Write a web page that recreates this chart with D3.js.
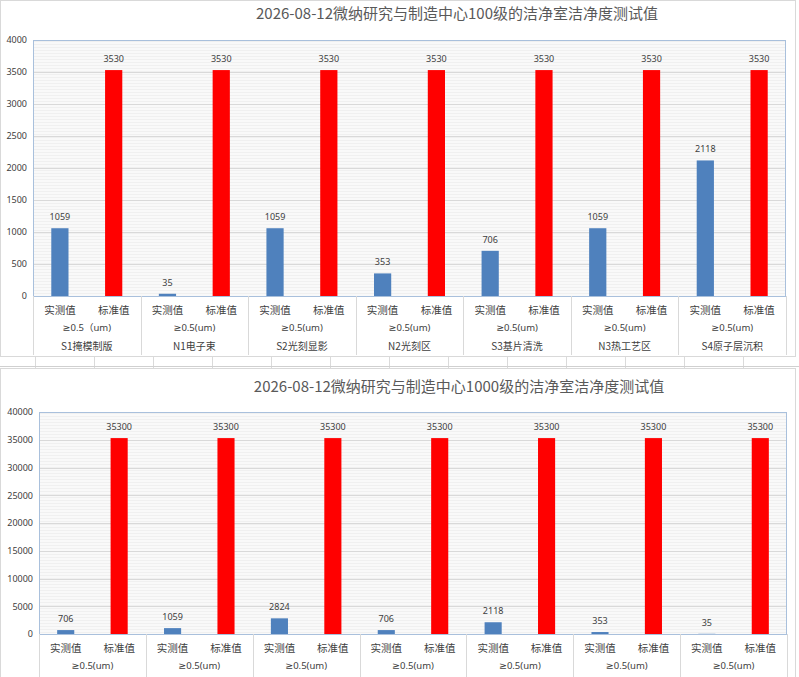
<!DOCTYPE html>
<html>
<head>
<meta charset="utf-8">
<script src="https://cdn.jsdelivr.net/npm/d3@7"></script>
<style>
  body { margin: 0; background: #fff; }
  svg { display: block; font-family: "Noto Sans CJK SC", "Noto Sans", sans-serif; }
</style>
</head>
<body>
<svg id="sheet" width="799" height="677"></svg>
<script>
// data
var rooms = ['S1掩模制版', 'N1电子束', 'S2光刻显影', 'N2光刻区', 'S3基片清洗', 'N3热工艺区', 'S4原子层沉积']
var subs = ['实测值', '标准值']
var sizeTop = ['≥0.5（um)', '≥0.5(um)', '≥0.5(um)', '≥0.5(um)', '≥0.5(um)', '≥0.5(um)', '≥0.5(um)']
var sizeBottom = ['≥0.5(um)', '≥0.5(um)', '≥0.5(um)', '≥0.5(um)', '≥0.5(um)', '≥0.5(um)', '≥0.5(um)']
var actual100 = [1059, 35, 1059, 353, 706, 1059, 2118]
var standard100 = [3530, 3530, 3530, 3530, 3530, 3530, 3530]
var actual1000 = [706, 1059, 2824, 706, 2118, 353, 35]
var standard1000 = [35300, 35300, 35300, 35300, 35300, 35300, 35300]
var ticks100 = [0, 500, 1000, 1500, 2000, 2500, 3000, 3500, 4000]
var ticks1000 = [0, 5000, 10000, 15000, 20000, 25000, 30000, 35000, 40000]

var svg = d3.select('#sheet')
var defs = svg.append('defs')
var pat = defs.append('pattern').attr('id', 'stripe')
    .attr('patternUnits', 'userSpaceOnUse').attr('width', 4).attr('height', 3)
pat.append('rect').attr('width', 4).attr('height', 3).attr('fill', '#f9f9f9')
pat.append('rect').attr('y', 2).attr('width', 4).attr('height', 1).attr('fill', '#f0f0f0')

// spreadsheet strip between the two charts
var strip = svg.append('g')
strip.append('rect').attr('x', 0).attr('y', 356).attr('width', 799).attr('height', 12).attr('fill', '#fff')
d3.range(35, 799, 59).forEach(function (x) {
    strip.append('line').attr('x1', x + 0.5).attr('x2', x + 0.5).attr('y1', 357).attr('y2', 368)
        .attr('stroke', '#dadada')
})
strip.append('line').attr('x1', 0).attr('x2', 799).attr('y1', 366.5).attr('y2', 366.5).attr('stroke', '#d0d0d0')

function drawChart(conf) {
    var g = svg.append('g')
    // chart area
    g.append('rect').attr('x', conf.box[0] + 0.5).attr('y', conf.box[1] + 0.5)
        .attr('width', conf.box[2] - conf.box[0] - 1).attr('height', conf.box[3] - conf.box[1] - 1)
        .attr('fill', '#fff').attr('stroke', '#d9d9d9')

    g.append('text').attr('x', conf.titleX).attr('y', conf.titleY)
        .attr('text-anchor', 'middle').attr('font-size', 15).attr('fill', '#595959')
        .text(conf.title)

    var x = d3.scaleBand().domain(rooms).range([conf.left, conf.right])
    var xs = d3.scaleBand().domain(subs).range([0, x.bandwidth()])
    var y = d3.scaleLinear().domain([0, conf.ticks[conf.ticks.length - 1]]).range([conf.bottom, conf.top])
    var bw = xs.bandwidth() * 0.32

    g.append('rect').attr('x', conf.left).attr('y', conf.top)
        .attr('width', conf.right - conf.left).attr('height', conf.bottom - conf.top)
        .attr('fill', 'url(#stripe)')

    g.selectAll('.grid').data(conf.ticks).join('line')
        .attr('x1', conf.left).attr('x2', conf.right)
        .attr('y1', function (d) { return Math.round(y(d)) + 0.5 })
        .attr('y2', function (d) { return Math.round(y(d)) + 0.5 })
        .attr('stroke', '#d9d9d9')

    var ya = g.append('g').attr('transform', 'translate(' + conf.left + ',0)')
        .call(d3.axisLeft(y).tickValues(conf.ticks).tickSize(0).tickPadding(6).tickFormat(d3.format('d')))
    ya.select('.domain').remove()
    ya.selectAll('text').attr('font-size', 9).attr('fill', '#404040')
        .attr('font-family', '"Noto Sans", sans-serif')

    var rows = rooms.map(function (r, i) {
        return { room: r, i: i, vals: [conf.actual[i], conf.standard[i]] }
    })
    var grp = g.selectAll('.grp').data(rows).join('g')
        .attr('transform', function (d) { return 'translate(' + x(d.room) + ',0)' })

    grp.selectAll('rect').data(function (d) { return d.vals }).join('rect')
        .attr('x', function (d, j) { return xs(subs[j]) + (xs.bandwidth() - bw) / 2 })
        .attr('width', bw)
        .attr('y', function (d) { return y(d) })
        .attr('height', function (d) { return conf.bottom - y(d) })
        .attr('fill', function (d, j) { return j == 0 ? '#4f81bd' : '#ff0000' })

    grp.selectAll('.lbl').data(function (d) { return d.vals }).join('text')
        .attr('x', function (d, j) { return xs(subs[j]) + xs.bandwidth() / 2 })
        .attr('y', function (d) { return y(d) - 8 })
        .attr('text-anchor', 'middle').attr('font-size', 9).attr('fill', '#404040')
        .attr('font-family', '"Noto Sans", sans-serif')
        .text(function (d) { return d })

    // plot border
    g.append('rect').attr('x', conf.left + 0.5).attr('y', conf.top + 0.5)
        .attr('width', conf.right - conf.left - 1).attr('height', conf.bottom - conf.top)
        .attr('fill', 'none').attr('stroke', '#a9c0dc')

    // multi level category axis
    var edges = rooms.map(function (r) { return x(r) }).concat([conf.right])
    g.selectAll('.sep').data(edges).join('line')
        .attr('x1', function (d) { return Math.round(d) + 0.5 }).attr('x2', function (d) { return Math.round(d) + 0.5 })
        .attr('y1', conf.bottom).attr('y2', conf.sepEnd)
        .attr('stroke', '#d9d9d9')

    grp.selectAll('.sub').data(subs).join('text')
        .attr('x', function (d) { return xs(d) + xs.bandwidth() / 2 })
        .attr('y', conf.bottom + 18)
        .attr('text-anchor', 'middle').attr('font-size', 10.5).attr('fill', '#404040')
        .text(function (d) { return d })

    grp.append('text').attr('x', x.bandwidth() / 2).attr('y', conf.bottom + 35)
        .attr('text-anchor', 'middle').attr('font-size', 9.5).attr('fill', '#404040')
        .attr('font-family', '"Noto Sans", "DejaVu Sans", "Noto Sans CJK SC", sans-serif')
        .text(function (d) { return conf.sizes[d.i] })

    if (conf.showRooms) {
        grp.append('text').attr('x', x.bandwidth() / 2).attr('y', conf.bottom + 54)
            .attr('text-anchor', 'middle').attr('font-size', 10).attr('fill', '#404040')
            .text(function (d) { return d.room })
    }
}

drawChart({
    box: [0, 0, 796, 357],
    title: '2026-08-12微纳研究与制造中心100级的洁净室洁净度测试值',
    titleX: 457, titleY: 19,
    left: 33, right: 786, top: 40, bottom: 296, sepEnd: 355,
    ticks: ticks100, actual: actual100, standard: standard100,
    sizes: sizeTop, showRooms: true
})

drawChart({
    box: [0, 368, 796, 690],
    title: '2026-08-12微纳研究与制造中心1000级的洁净室洁净度测试值',
    titleX: 459, titleY: 392,
    left: 39, right: 787, top: 412, bottom: 634, sepEnd: 690,
    ticks: ticks1000, actual: actual1000, standard: standard1000,
    sizes: sizeBottom, showRooms: false
})
</script>
</body>
</html>
